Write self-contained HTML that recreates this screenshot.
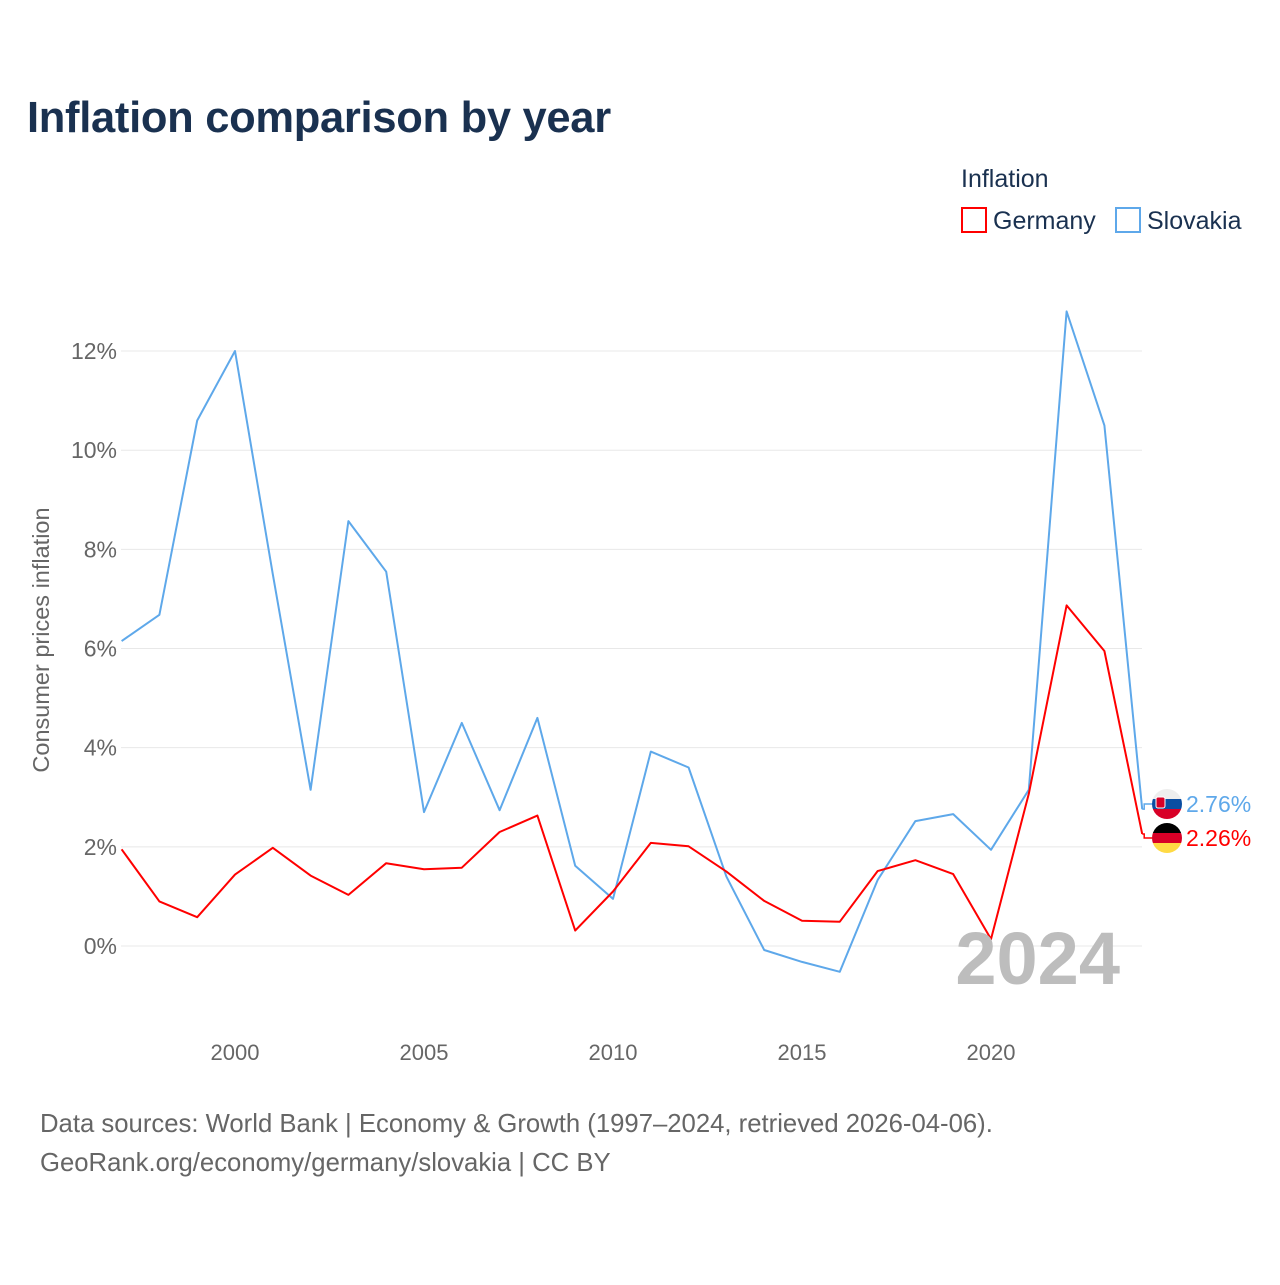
<!DOCTYPE html>
<html><head><meta charset="utf-8">
<style>
body{margin:0;background:#fff;font-family:"Liberation Sans",sans-serif;}
svg text{font-family:"Liberation Sans",sans-serif;}
</style></head>
<body>
<svg id="chart" width="1280" height="1280" viewBox="0 0 1280 1280" xmlns="http://www.w3.org/2000/svg">
<rect width="1280" height="1280" fill="#fff"/>
<text x="27" y="132" font-size="43.5" font-weight="bold" fill="#1a3150" letter-spacing="-0.3">Inflation comparison by year</text>
<text x="961" y="187" font-size="25" fill="#1a3150">Inflation</text>
<g>
<rect x="962" y="208" width="24" height="24" fill="none" stroke="#ff0000" stroke-width="2"/>
<text x="993" y="229" font-size="25" fill="#1a3150">Germany</text></g>
<g>
<rect x="1116" y="208" width="24" height="24" fill="none" stroke="#5ea8ea" stroke-width="2"/>
<text x="1147" y="229" font-size="25" fill="#1a3150">Slovakia</text></g>
<text transform="translate(49,640) rotate(-90)" text-anchor="middle" font-size="23.5" fill="#666">Consumer prices inflation</text>
<g id="grid"></g><g id="series"></g>
<text x="1120" y="984" text-anchor="end" font-size="74" font-weight="bold" fill="#bdbdbd">2024</text>
<text x="40" y="1132" font-size="25.7" fill="#666">Data sources: World Bank | Economy &amp; Growth (1997–2024, retrieved 2026-04-06).</text>
<text x="40" y="1171" font-size="25.7" fill="#666">GeoRank.org/economy/germany/slovakia | CC BY</text>
</svg>
<script>
const years=[1997,1998,1999,2000,2001,2002,2003,2004,2005,2006,2007,2008,2009,2010,2011,2012,2013,2014,2015,2016,2017,2018,2019,2020,2021,2022,2023,2024];
const slovakia=[6.15,6.68,10.6,12.0,7.5,3.15,8.57,7.55,2.7,4.5,2.74,4.6,1.62,0.95,3.92,3.6,1.4,-0.08,-0.32,-0.52,1.33,2.52,2.66,1.94,3.15,12.8,10.5,2.76];
const germany=[1.95,0.9,0.58,1.44,1.98,1.42,1.03,1.67,1.55,1.58,2.3,2.63,0.31,1.1,2.08,2.01,1.5,0.91,0.51,0.49,1.51,1.73,1.45,0.14,3.07,6.87,5.95,2.26];
const yTicks=[0,2,4,6,8,10,12];
const xTicks=[2000,2005,2010,2015,2020];
const NS="http://www.w3.org/2000/svg";
const x=v=>121.6+(v-1997)*37.8;
const y=v=>946-v*49.58;
function mk(tag,attrs,parent){const e=document.createElementNS(NS,tag);for(const k in attrs)e.setAttribute(k,attrs[k]);parent.appendChild(e);return e;}
const grid=document.getElementById('grid'),ser=document.getElementById('series');
yTicks.forEach(t=>{
 const l=mk('line',{x1:121,x2:1142,y1:y(t),y2:y(t),stroke:'#e8e8e8','stroke-width':1},grid);
 
 
 const tx=mk('text',{x:117,y:y(t)+8,'text-anchor':'end','font-size':23,fill:'#666'},grid);
 tx.textContent=t+'%';
 
 
});
xTicks.forEach(t=>{
 const tx=mk('text',{x:x(t),y:1060,'text-anchor':'middle','font-size':22,fill:'#666'},grid);
 tx.textContent=t;
 
 
});
function line(vals,color,name,ly){
 const d=vals.map((v,i)=>(i?'L':'M')+x(years[i]).toFixed(1)+','+y(v).toFixed(1)).join(' ');
 const p=mk('path',{d:d,fill:'none',stroke:color,'stroke-width':2,'stroke-linejoin':'round'},ser);
 
 
 const last=vals[vals.length-1],lx=x(years[years.length-1]);
 const c=mk('path',{d:`M${lx},${y(last)} L${lx+2},${y(last)} L${lx+2},${ly} L${lx+10},${ly}`,fill:'none',stroke:color,'stroke-width':1.5},ser);
 
 
 const t=mk('text',{x:1186,y:ly+8,'font-size':23,fill:color},ser);
 t.textContent=last.toFixed(2)+'%';
 
 
}
line(slovakia,'#5ea8ea','slovakia',804);
line(germany,'#ff0000','germany',838);
function flag(cy,cols,name){
 const g=mk('g',{},ser);
 
 
 const id='c'+cy;
 const cp=mk('clipPath',{id:id},g);mk('circle',{cx:1167,cy:cy,r:15},cp);
 cols.forEach((c,i)=>mk('rect',{x:1152,y:cy-15+i*10,width:30,height:10,fill:c,'clip-path':`url(#${id})`},g));
 return g;
}
const sk=flag(804,['#eeeeee','#0b4ea2','#d80027'],'slovakia-flag');
mk('rect',{x:1156,y:797,width:9,height:11,rx:2,fill:'#d80027',stroke:'#fff','stroke-width':1},sk);
flag(838,['#000000','#d80027','#ffda44'],'germany-flag');
</script>
</body></html>
